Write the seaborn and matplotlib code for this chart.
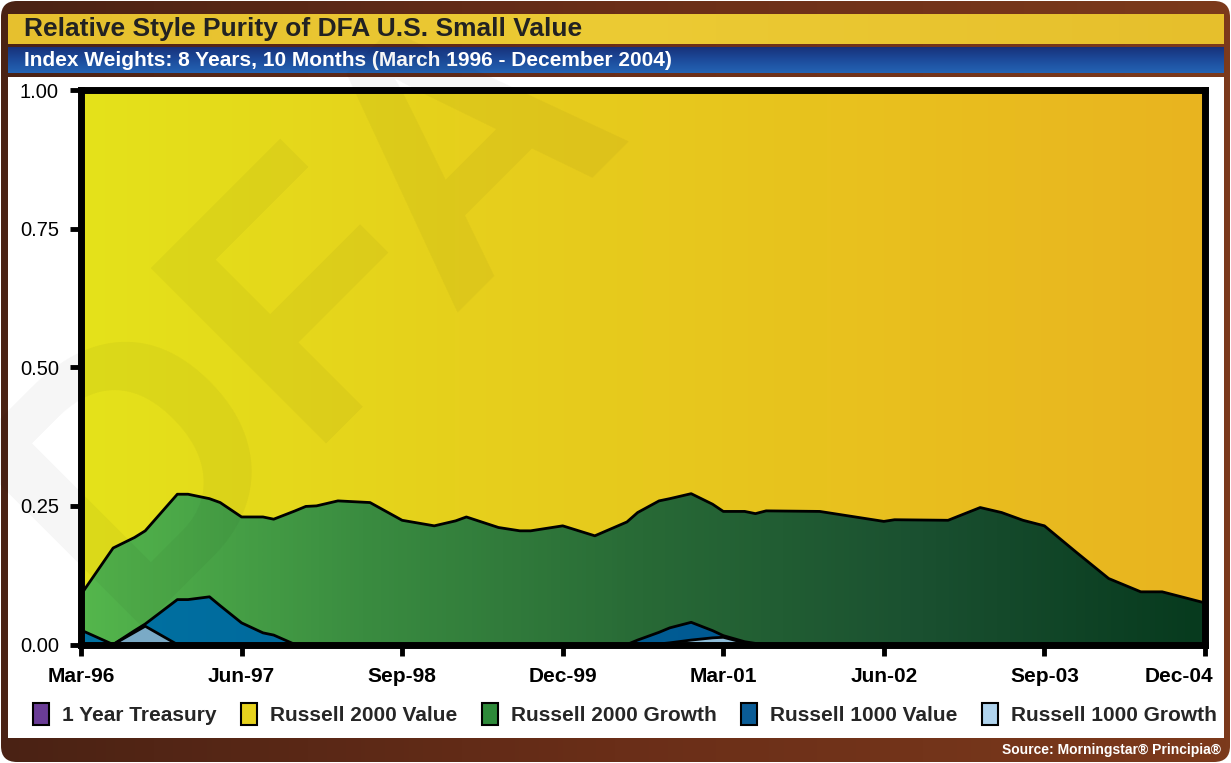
import numpy as np
import matplotlib
matplotlib.use("Agg")
import matplotlib.pyplot as plt
import matplotlib.transforms as mtransforms
import seaborn as sns
from matplotlib.colors import LinearSegmentedColormap
from matplotlib.patches import FancyBboxPatch, Rectangle, Patch

# ---------------- data (months after Mar-96) ----------------
months = [0, 3, 5, 6, 9, 10, 12, 13, 15, 17, 18, 20, 21, 22, 24, 25, 27, 30, 33, 35,
          36, 39, 41, 42, 45, 48, 51, 52, 54, 55, 57, 59, 60, 62, 63, 64, 69, 75, 76, 81,
          84, 86, 88, 90, 93, 96, 99, 101, 105]

treasury_1yr = [0.000, 0.000, 0.000, 0.000, 0.000, 0.000, 0.000, 0.000, 0.000, 0.000,
                0.000, 0.000, 0.000, 0.000, 0.000, 0.000, 0.000, 0.000, 0.000, 0.000,
                0.000, 0.000, 0.000, 0.000, 0.000, 0.000, 0.000, 0.000, 0.000, 0.000,
                0.000, 0.000, 0.000, 0.000, 0.000, 0.000, 0.000, 0.000, 0.000, 0.000,
                0.000, 0.000, 0.000, 0.000, 0.000, 0.000, 0.000, 0.000, 0.000]

r2000_value = [0.910, 0.826, 0.807, 0.795, 0.729, 0.729, 0.737, 0.744, 0.770, 0.770,
               0.774, 0.759, 0.751, 0.750, 0.741, 0.742, 0.744, 0.776, 0.786, 0.777,
               0.770, 0.789, 0.795, 0.795, 0.786, 0.804, 0.779, 0.762, 0.741, 0.737,
               0.728, 0.747, 0.760, 0.760, 0.764, 0.759, 0.760, 0.778, 0.775, 0.776,
               0.753, 0.762, 0.776, 0.786, 0.834, 0.881, 0.905, 0.905, 0.925]

r2000_growth = [0.064, 0.174, 0.168, 0.168, 0.190, 0.190, 0.177, 0.186, 0.191, 0.209,
                0.209, 0.241, 0.249, 0.250, 0.259, 0.258, 0.256, 0.224, 0.214, 0.223,
                0.230, 0.211, 0.205, 0.205, 0.214, 0.196, 0.221, 0.230, 0.237, 0.233,
                0.232, 0.228, 0.224, 0.235, 0.234, 0.241, 0.240, 0.222, 0.225, 0.224,
                0.247, 0.238, 0.224, 0.214, 0.166, 0.119, 0.095, 0.095, 0.075]

r1000_value = [0.026, 0.000, 0.003, 0.004, 0.081, 0.081, 0.086, 0.070, 0.039, 0.021,
               0.017, 0.000, 0.000, 0.000, 0.000, 0.000, 0.000, 0.000, 0.000, 0.000,
               0.000, 0.000, 0.000, 0.000, 0.000, 0.000, 0.000, 0.008, 0.021, 0.027,
               0.032, 0.013, 0.003, 0.002, 0.001, 0.000, 0.000, 0.000, 0.000, 0.000,
               0.000, 0.000, 0.000, 0.000, 0.000, 0.000, 0.000, 0.000, 0.000]

r1000_growth = [0.000, 0.000, 0.022, 0.033, 0.000, 0.000, 0.000, 0.000, 0.000, 0.000,
                0.000, 0.000, 0.000, 0.000, 0.000, 0.000, 0.000, 0.000, 0.000, 0.000,
                0.000, 0.000, 0.000, 0.000, 0.000, 0.000, 0.000, 0.000, 0.001, 0.003,
                0.008, 0.012, 0.013, 0.003, 0.001, 0.000, 0.000, 0.000, 0.000, 0.000,
                0.000, 0.000, 0.000, 0.000, 0.000, 0.000, 0.000, 0.000, 0.000]

series_names = ["1 Year Treasury", "Russell 2000 Value", "Russell 2000 Growth",
                "Russell 1000 Value", "Russell 1000 Growth"]
tick_months = [0, 15, 30, 45, 60, 75, 90, 105]
tick_labels = ["Mar-96", "Jun-97", "Sep-98", "Dec-99", "Mar-01", "Jun-02", "Sep-03", "Dec-04"]
y_ticks = [0.0, 0.25, 0.5, 0.75, 1.0]

title = "Relative Style Purity of DFA U.S. Small Value"
subtitle = "Index Weights: 8 Years, 10 Months (March 1996 - December 2004)"
source = "Source: Morningstar\u00ae Principia\u00ae"

# ---------------- style ----------------
sns.set_theme(style="white")
plt.rcParams["font.family"] = ["Liberation Sans", "DejaVu Sans"]

W, H = 1231, 763
fig = plt.figure(figsize=(W / 100, H / 100), dpi=100)
fig.patch.set_facecolor("white")

# background / frame axes in pixel coordinates
bg = fig.add_axes([0, 0, 1, 1], zorder=0)
bg.set_xlim(0, W)
bg.set_ylim(H, 0)
bg.axis("off")

hgrad = np.linspace(0, 1, 256).reshape(1, -1)
vgrad = np.linspace(0, 1, 256).reshape(-1, 1)

def cm(cols):
    return LinearSegmentedColormap.from_list("c", cols)

frame = FancyBboxPatch((1, 1), W - 2, H - 2, boxstyle="round,pad=0,rounding_size=16",
                       fc="none", ec="none")
bg.add_patch(frame)
im = bg.imshow(hgrad, extent=[0, W, H, 0], aspect="auto", cmap=cm(["#4a2214", "#6a2e18", "#7c3a1c"]))
im.set_clip_path(frame)

# title bar
bg.imshow(hgrad, extent=[8, 1224, 44, 14], aspect="auto",
          cmap=cm(["#e6c02e", "#eccb34", "#e6bf2c"]))
# subtitle bar
bg.imshow(vgrad, extent=[8, 1224, 47, 73], aspect="auto", origin="lower",
          cmap=cm(["#17317a", "#1d4c9c", "#2464b4"]))
# white panel
bg.add_patch(Rectangle((8, 77), 1216, 661, fc="white", ec="none"))

fig.text(24 / W, 1 - 29 / H, title, fontsize=19, fontweight="bold", color="#222222",
         ha="left", va="center")
fig.text(24 / W, 1 - 60 / H, subtitle, fontsize=15, fontweight="bold", color="white",
         ha="left", va="center")
fig.text(1221 / W, 1 - 750 / H, source, fontsize=10, fontweight="bold", color="white",
         ha="right", va="center")

# ---------------- main chart ----------------
ax = fig.add_axes([81 / W, 1 - 644.5 / H, 1124 / W, 554.5 / H], zorder=2)

stack = ax.stackplot(months, treasury_1yr, r1000_growth, r1000_value, r2000_growth, r2000_value,
                     colors=["#6a3c96", "#7aaac4", "#006a9c", "#3a8a40", "#e6cc1e"], linewidth=0)

cmaps = [None,
         cm(["#78a8c4", "#8cbcd8", "#9cc8e2"]),
         cm(["#0072a2", "#005c94", "#004c88"]),
         cm(["#54b64c", "#3a8c40", "#286a36", "#1a5030", "#073a1e"]),
         cm(["#e4e21a", "#e6d01c", "#e8c21e", "#e8b420"])]
for poly, cmap in zip(stack, cmaps):
    if cmap is None:
        poly.set_visible(False)
        continue
    path = poly.get_paths()[0]
    g = ax.imshow(hgrad, extent=[0, 105, 0, 1], aspect="auto", cmap=cmap, origin="lower",
                  zorder=1, interpolation="bilinear")
    g.set_clip_path(path, transform=ax.transData)
    poly.set_facecolor("none")

cum1 = np.array(r1000_growth)
cum2 = cum1 + np.array(r1000_value)
cum3 = cum2 + np.array(r2000_growth)
for c in (cum1, cum2, cum3):
    sns.lineplot(x=months, y=c, ax=ax, color="black", linewidth=2.0, zorder=4)

ax.set_xlim(0, 105)
ax.set_ylim(0, 1)
ax.set_xticks(tick_months)
ax.set_xticklabels(tick_labels, fontsize=15, fontweight="bold")
ax.set_yticks(y_ticks)
ax.set_yticklabels([f"{v:.2f}" for v in y_ticks], fontsize=14.5)
ax.tick_params(axis="both", direction="out", length=8, width=3.5, color="black",
               labelcolor="black", bottom=True, left=True)
ax.tick_params(axis="x", pad=8)
ax.tick_params(axis="y", pad=8)
last = ax.get_xticklabels()[-1]
last.set_ha("right")
last.set_transform(last.get_transform() +
                   mtransforms.ScaledTranslation(8 / 100, 0, fig.dpi_scale_trans))
for s in ax.spines.values():
    s.set_visible(True)
    s.set_linewidth(5)
    s.set_color("black")
    s.set_zorder(5)
ax.set_xlabel("")
ax.set_ylabel("")
ax.grid(False)

# watermark
fig.text(0.25, 0.60, "DFA", fontsize=260, fontweight="bold", color="#000000", alpha=0.038,
         rotation=45, ha="center", va="center", zorder=10)

# legend
handle_cols = ["#6a3c96", "#e6d21e", "#2e8a3a", "#0a5c96", "#b0d4ee"]
handles = [Patch(facecolor=c, edgecolor="black", linewidth=1.5) for c in handle_cols]
fig.legend(handles, series_names, loc="center", bbox_to_anchor=(625 / W, 1 - 714 / H), ncol=5,
           frameon=False, prop={"size": 15, "weight": "bold"}, handlelength=0.77,
           handleheight=1.2, handletextpad=0.65, columnspacing=1.15, borderaxespad=0)

fig.savefig("out.png", dpi=100, facecolor="white")
